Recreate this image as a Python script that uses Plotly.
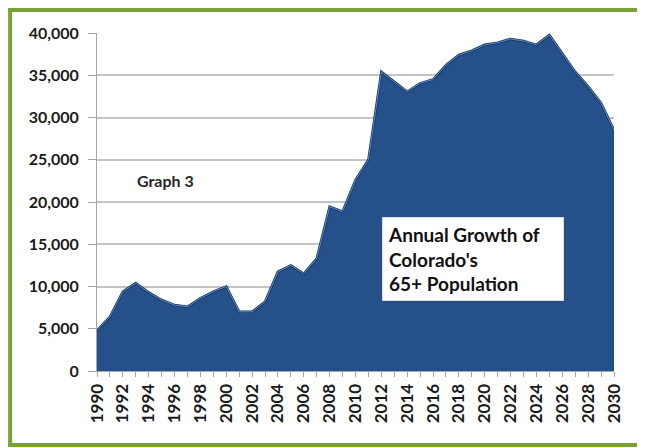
import plotly.graph_objects as go

# Colorado 65+ population, annual growth
years = list(range(1990, 2031))
growth = [4800, 6400, 9400, 10400, 9300, 8400, 7800, 7600, 8600, 9400,
          10000, 7000, 7000, 8200, 11750, 12500, 11500, 13300, 19450, 18850,
          22600, 25000, 35400, 34200, 33050, 34050, 34500, 36200, 37400, 37900,
          38600, 38850, 39300, 39050, 38600, 39750, 37600, 35400, 33650, 31700,
          28500]

x_ticks = list(range(1990, 2031, 2))
y_ticks = list(range(0, 40001, 5000))

fig = go.Figure()

fig.add_trace(go.Scatter(
    x=years, y=growth,
    mode="lines",
    fill="tozeroy",
    fillcolor="#25508a",
    line=dict(color="#163560", width=2.5),
    hoverinfo="x+y",
))
# light bevel edge
fig.add_trace(go.Scatter(
    x=years, y=growth,
    mode="lines",
    line=dict(color="#5f8fcc", width=1),
    hoverinfo="skip",
))

fig.update_xaxes(
    range=[1990, 2030],
    tickvals=x_ticks,
    tickangle=-90,
    tickfont=dict(family="Lato", size=17, color="#1a1a1a", weight="bold"),
    showgrid=False,
    showline=True, linecolor="#a6a6a6", linewidth=1,
    ticks="outside", ticklen=5, tickcolor="#a6a6a6",
    minor=dict(dtick=1, ticks="outside", ticklen=5, tickcolor="#a6a6a6"),
    zeroline=False,
)
fig.update_yaxes(
    range=[0, 40000],
    tickvals=y_ticks,
    tickformat=",",
    tickfont=dict(family="Lato", size=16, color="#1a1a1a", weight="bold"),
    showgrid=True, gridcolor="#c4c4c4", gridwidth=1.5,
    showline=True, linecolor="#a6a6a6", linewidth=1,
    ticks="outside", ticklen=8, tickcolor="#a6a6a6",
    ticklabelstandoff=6,
    zeroline=False,
)

fig.add_annotation(
    x=1995.3, y=22500, xref="x", yref="y",
    text="Graph 3", showarrow=False,
    font=dict(family="Lato", size=16, color="#262626", weight="bold"),
)
fig.add_annotation(
    x=2019.1, y=13200, xref="x", yref="y",
    text="Annual Growth of<br>Colorado's<br>65+ Population",
    showarrow=False, align="left",
    font=dict(family="Lato", size=19, color="#111111", weight="bold"),
    bgcolor="white", bordercolor="#dcdcdc", borderwidth=1, borderpad=5,
    width=170,
)

# green frame: top, left and bottom edges only
frame = dict(color="#77a234", width=4)
fig.add_shape(type="line", xref="paper", yref="paper",
              x0=-0.172, x1=1.059, y0=1.068, y1=1.068, line=frame)
fig.add_shape(type="line", xref="paper", yref="paper",
              x0=-0.168, x1=-0.168, y0=-0.219, y1=1.072, line=frame)
fig.add_shape(type="line", xref="paper", yref="paper",
              x0=-0.172, x1=1.059, y0=-0.219, y1=-0.219, line=frame)

# page body has an 8px margin, so the figure is 8px smaller than the window
fig.update_layout(
    width=637, height=440,
    margin=dict(l=89, r=31, t=25, b=77),
    paper_bgcolor="white",
    plot_bgcolor="white",
    showlegend=False,
)

fig.write_html("out.html")
